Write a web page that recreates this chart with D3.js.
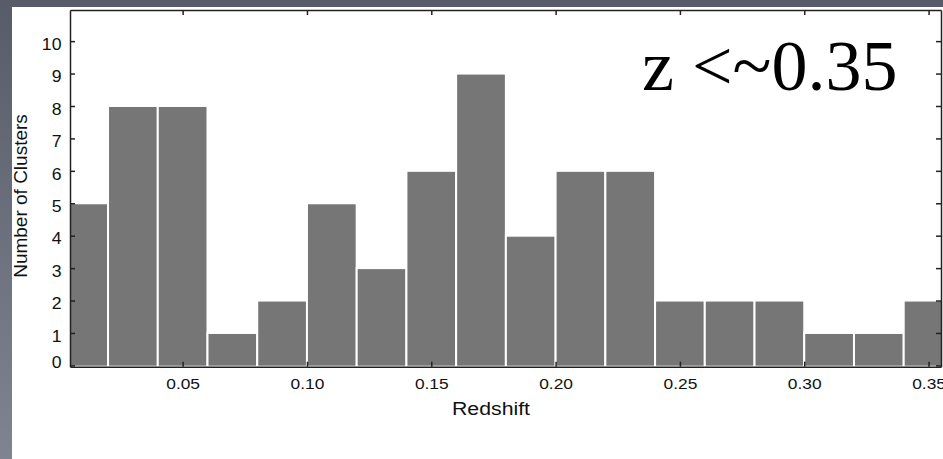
<!DOCTYPE html>
<html>
<head>
<meta charset="utf-8">
<script src="https://cdn.jsdelivr.net/npm/d3@7"></script>
<style>
  html, body { margin: 0; padding: 0; background: #fff; }
  svg { display: block; }
</style>
</head>
<body>
<div id="chartContainer"></div>
<script>
// Histogram bins (redshift, bin width 0.02) and counts.
const binStarts = [0.00, 0.02, 0.04, 0.06, 0.08, 0.10, 0.12, 0.14, 0.16,
                   0.18, 0.20, 0.22, 0.24, 0.26, 0.28, 0.30, 0.32, 0.34];
const binWidth = 0.02;
const counts = [5, 8, 8, 1, 2, 5, 3, 6, 9, 4, 6, 6, 2, 2, 2, 1, 1, 2];
const xTickValues = [0.05, 0.10, 0.15, 0.20, 0.25, 0.30, 0.35];
const yTickValues = [0, 1, 2, 3, 4, 5, 6, 7, 8, 9, 10];
const xDomain = [0.0047, 0.355];
const yDomain = [-0.04, 10.96];

function createChart() {
    const width = 943;
    const height = 459;
    const plot = { left: 70, right: 941, top: 10, bottom: 366.7 };

    const svg = d3.create("svg")
        .attr("width", width)
        .attr("height", height)
        .attr("viewBox", `0 0 ${width} ${height}`);

    // Slide background strips (left and top).
    const grad = svg.append("defs").append("linearGradient")
        .attr("id", "slideBg")
        .attr("x1", 0).attr("y1", 0).attr("x2", 0).attr("y2", 1);
    grad.append("stop").attr("offset", "0%").attr("stop-color", "#585c69");
    grad.append("stop").attr("offset", "100%").attr("stop-color", "#7f8490");

    svg.append("rect")
        .attr("width", width).attr("height", height)
        .attr("fill", "url(#slideBg)");
    svg.append("rect")
        .attr("x", 12).attr("y", 7)
        .attr("width", width - 12).attr("height", height - 7)
        .attr("fill", "#ffffff");

    // Scales.
    const x = d3.scaleLinear().domain(xDomain).range([plot.left, plot.right]);
    const y = d3.scaleLinear().domain(yDomain).range([plot.bottom, plot.top]);

    svg.select("defs").append("clipPath")
        .attr("id", "plotClip")
        .append("rect")
        .attr("x", plot.left).attr("y", plot.top)
        .attr("width", plot.right - plot.left)
        .attr("height", plot.bottom - plot.top);

    // Bars.
    svg.append("g")
        .attr("clip-path", "url(#plotClip)")
        .selectAll("rect")
        .data(binStarts)
        .join("rect")
        .attr("x", d => x(d))
        .attr("width", d => x(d + binWidth) - x(d))
        .attr("y", (d, i) => y(counts[i]))
        .attr("height", (d, i) => y(yDomain[0]) - y(counts[i]))
        .attr("fill", "#767676")
        .attr("stroke", "#ffffff")
        .attr("stroke-width", 2);

    const font = "Liberation Sans, Arial, Helvetica, sans-serif";

    // Axes (ticks point inward, box around the plot).
    const xBottom = svg.append("g")
        .attr("transform", `translate(0,${plot.bottom})`)
        .call(d3.axisBottom(x).tickValues(xTickValues).tickFormat(d3.format(".2f"))
            .tickSizeInner(-5).tickSizeOuter(0).tickPadding(11));
    xBottom.selectAll("text")
        .attr("transform", "scale(1.12,1)")
        .style("font", `15.5px ${font}`)
        .attr("fill", "#111");

    svg.append("g")
        .attr("transform", `translate(0,${plot.top})`)
        .call(d3.axisTop(x).tickValues(xTickValues).tickFormat("")
            .tickSizeInner(-5).tickSizeOuter(0));

    const yLeft = svg.append("g")
        .attr("transform", `translate(${plot.left},0)`)
        .call(d3.axisLeft(y).tickValues(yTickValues).tickFormat(d3.format("d"))
            .tickSizeInner(-5).tickSizeOuter(0).tickPadding(8));
    yLeft.selectAll("text")
        .attr("dy", d => d === 0 ? "0.1em" : "0.5em")
        .attr("transform", "scale(1.07,1)")
        .style("font", `16.5px ${font}`)
        .attr("fill", "#111");

    svg.append("g")
        .attr("transform", `translate(${plot.right},0)`)
        .call(d3.axisRight(y).tickValues(yTickValues).tickFormat("")
            .tickSizeInner(-5).tickSizeOuter(0));

    svg.selectAll(".domain").attr("stroke", "#222").attr("stroke-width", 1.5);
    svg.selectAll(".tick line").attr("stroke", "#222").attr("stroke-width", 1.5);

    // Axis titles.
    svg.append("text")
        .attr("transform", "translate(491,415) scale(1.12,1)")
        .attr("text-anchor", "middle")
        .style("font", `19px ${font}`)
        .attr("fill", "#111")
        .text("Redshift");

    svg.append("text")
        .attr("transform", "translate(26.5,196) rotate(-90)")
        .attr("text-anchor", "middle")
        .style("font", `19px ${font}`)
        .attr("fill", "#111")
        .text("Number of Clusters");

    // Slide annotation.
    svg.append("text")
        .attr("x", 642)
        .attr("y", 90)
        .style("font", "72px 'Liberation Serif', 'Times New Roman', serif")
        .attr("fill", "#000")
        .text("z <~0.35");

    return svg.node();
}

document.getElementById("chartContainer").appendChild(createChart());
</script>
</body>
</html>
